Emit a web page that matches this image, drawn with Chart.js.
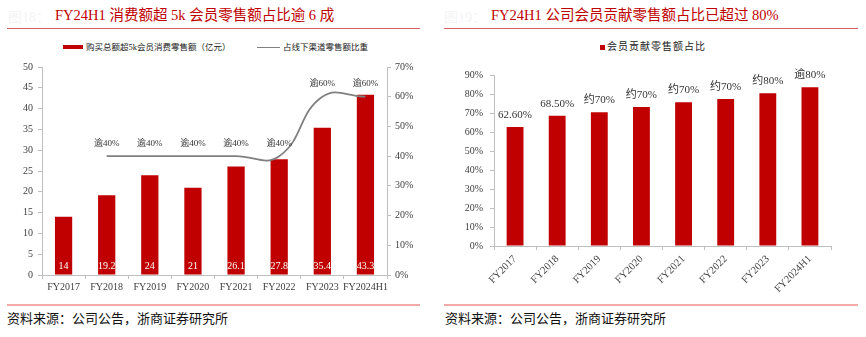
<!DOCTYPE html>
<html>
<head>
<meta charset="utf-8">
<script src="https://cdn.jsdelivr.net/npm/chart.js@4.4.1/dist/chart.umd.min.js"></script>
<style>
body { margin:0; width:866px; height:337px; background:#fff; position:relative; overflow:hidden;
       font-family:'Liberation Serif','Noto Sans CJK SC',serif; }
.abs { position:absolute; white-space:nowrap; }
.fig { color:#f4f4f4; font-size:14px; top:6px; }
.title { color:#c00000; font-size:14.5px; top:5px; line-height:20px; }
.rule { height:1px; background:#d95f5f; top:28px; }
.foot-rule { height:2px; background:#f4a9a9; top:304px; }
.source { font-size:13px; top:311px; line-height:16px; color:#111; }
.legend { font-size:8.5px; color:#222; top:41px; line-height:12px; }
canvas { position:absolute; top:56px; }
</style>
</head>
<body>

<div class="abs fig" style="left:8px">图18：</div>
<div class="abs title" style="left:55px">FY24H1 消费额超 5k 会员零售额占比逾 6 成</div>
<div class="abs rule" style="left:7px;width:413px"></div>
<div class="abs" style="left:63px;top:45px;width:20px;height:4px;background:#c00000"></div>
<div class="abs legend" style="left:86px">购买总额超5k会员消费零售额（亿元）</div>
<div class="abs" style="left:257px;top:46.5px;width:23px;height:1.5px;background:#808080"></div>
<div class="abs legend" style="left:283px">占线下渠道零售额比重</div>
<canvas id="spendChart" width="433" height="245" style="left:0"></canvas>
<div class="abs foot-rule" style="left:7px;width:413px"></div>
<div class="abs source" style="left:7px">资料来源：公司公告，浙商证券研究所</div>

<div class="abs fig" style="left:444px">图19：</div>
<div class="abs title" style="left:491px">FY24H1 公司会员贡献零售额占比已超过 80%</div>
<div class="abs rule" style="left:444px;width:414px"></div>
<div class="abs" style="left:600px;top:45px;width:5px;height:5px;background:#c00000"></div>
<div class="abs legend" style="left:607px;font-size:10px;letter-spacing:1px;top:41px">会员贡献零售额占比</div>
<canvas id="shareChart" width="433" height="245" style="left:433px"></canvas>
<div class="abs foot-rule" style="left:444px;width:414px"></div>
<div class="abs source" style="left:445px">资料来源：公司公告，浙商证券研究所</div>

<script>
const years = ['FY2017', 'FY2018', 'FY2019', 'FY2020', 'FY2021', 'FY2022', 'FY2023', 'FY2024H1'];

// 购买总额超5k会员消费零售额（亿元）
const spendOver5k = [14, 19.2, 24, 21, 26.1, 27.8, 35.4, 43.3];
// 占线下渠道零售额比重（%）
const offlineShare = [null, 40, 40, 40, 40, 40, 60, 60];
const offlineShareLabels = ['', '逾40%', '逾40%', '逾40%', '逾40%', '逾40%', '逾60%', '逾60%'];

// 会员贡献零售额占比（%）
const memberShare = [62.6, 68.5, 70.4, 73.2, 75.6, 77.4, 80.4, 83.5];
const memberShareLabels = ['62.60%', '68.50%', '约70%', '约70%', '约70%', '约70%', '约80%', '逾80%'];

const RED = '#c00000';
const AXIS = '#bfbfbf';
const serif = "'Liberation Serif', 'Noto Sans CJK SC', serif";

Chart.defaults.color = '#404040';
Chart.defaults.font.family = serif;
Chart.defaults.font.size = 10;
Chart.defaults.animation = false;

function axisGrid() {
    return { display: true, drawOnChartArea: false, color: AXIS, tickLength: 4 };
}

// draws the value texts on top of the bars / line points
const spendLabels = {
    id: 'spendLabels',
    afterDatasetsDraw(chart) {
        const ctx = chart.ctx;
        const base = chart.scales.y.getPixelForValue(0);
        ctx.save();
        ctx.textAlign = 'center';
        ctx.textBaseline = 'middle';
        ctx.font = '10px ' + serif;
        ctx.fillStyle = '#ffffff';
        chart.getDatasetMeta(0).data.forEach((bar, i) => {
            ctx.fillText(String(spendOver5k[i]), bar.x, base - 9);
        });
        ctx.font = '9px ' + serif;
        ctx.fillStyle = '#333333';
        chart.getDatasetMeta(1).data.forEach((pt, i) => {
            if (offlineShareLabels[i]) ctx.fillText(offlineShareLabels[i], pt.x, pt.y - 13);
        });
        ctx.restore();
    }
};

new Chart(document.getElementById('spendChart'), {
    type: 'bar',
    data: {
        labels: years,
        datasets: [{
            type: 'bar',
            label: '购买总额超5k会员消费零售额（亿元）',
            data: spendOver5k,
            backgroundColor: RED,
            barPercentage: 0.4,
            categoryPercentage: 1,
            yAxisID: 'y',
            order: 1
        }, {
            type: 'line',
            label: '占线下渠道零售额比重',
            data: offlineShare,
            borderColor: '#808080',
            borderWidth: 1.8,
            pointRadius: 0,
            tension: 0.45,
            yAxisID: 'y1',
            order: 0
        }]
    },
    options: {
        responsive: false,
        layout: { padding: { top: 10, left: 0, right: 0, bottom: 0 } },
        plugins: { legend: { display: false }, tooltip: { enabled: false } },
        scales: {
            x: {
                grid: axisGrid(),
                border: { color: AXIS },
                ticks: { padding: 2, autoSkip: false, maxRotation: 0 },
                afterFit(s) { s.height = 26; }
            },
            y: {
                position: 'left',
                min: 0, max: 50,
                grid: axisGrid(),
                border: { color: AXIS },
                ticks: { stepSize: 5, padding: 5 },
                afterFit(s) { s.width = 42; }
            },
            y1: {
                position: 'right',
                min: 0, max: 70,
                grid: axisGrid(),
                border: { color: AXIS },
                ticks: { stepSize: 10, padding: 4, callback: v => v + '%' },
                afterFit(s) { s.width = 46; }
            }
        }
    },
    plugins: [spendLabels]
});

const shareLabels = {
    id: 'shareLabels',
    afterDatasetsDraw(chart) {
        const ctx = chart.ctx;
        ctx.save();
        ctx.textAlign = 'center';
        ctx.textBaseline = 'middle';
        ctx.font = '11px ' + serif;
        ctx.fillStyle = '#333333';
        chart.getDatasetMeta(0).data.forEach((bar, i) => {
            ctx.fillText(memberShareLabels[i], bar.x, bar.y - 12);
        });
        ctx.restore();
    }
};

new Chart(document.getElementById('shareChart'), {
    type: 'bar',
    data: {
        labels: years,
        datasets: [{
            label: '会员贡献零售额占比',
            data: memberShare,
            backgroundColor: RED,
            barPercentage: 0.4,
            categoryPercentage: 1
        }]
    },
    options: {
        responsive: false,
        layout: { padding: { top: 19, left: 0, right: 35, bottom: 0 } },
        plugins: { legend: { display: false }, tooltip: { enabled: false } },
        scales: {
            x: {
                grid: axisGrid(),
                border: { color: AXIS },
                ticks: { padding: 3, autoSkip: false, minRotation: 45, maxRotation: 45, font: { size: 10.5 } },
                afterFit(s) { s.height = 55; }
            },
            y: {
                min: 0, max: 90,
                grid: axisGrid(),
                border: { color: AXIS },
                ticks: { stepSize: 10, padding: 7, callback: v => v + '%' },
                afterFit(s) { s.width = 61; }
            }
        }
    },
    plugins: [shareLabels]
});
</script>
</body>
</html>
